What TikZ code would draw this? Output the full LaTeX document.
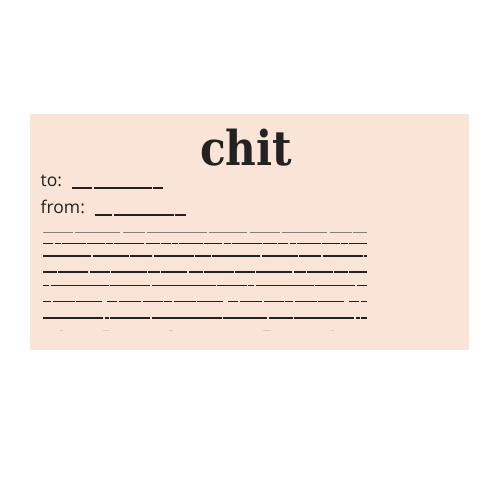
\documentclass[tikz,border=0pt]{standalone}
\usepackage{fontspec}
\newfontfamily\titlefont[FakeStretch=0.88]{DejaVu Serif}
\newfontfamily\labelfont{Open Sans}
\definecolor{peach}{HTML}{FAE4D7}
\definecolor{ink}{HTML}{222222}
\definecolor{inkfaint}{HTML}{8A7F78}
\tikzset{
  ruled/.style={ink, line width=1.7pt},
  faintrule/.style={inkfaint, line width=0.8pt},
  labeltext/.style={inner sep=0pt, anchor=base west, text=ink, font=\labelfont\fontsize{17.5}{20}\selectfont},
}
\begin{document}
\begin{tikzpicture}[x=1pt,y=-1pt]
\useasboundingbox (0,0) rectangle (500,500);
\fill[white] (0,0) rectangle (500,500);
\fill[peach] (30,114) rectangle (469,350);
\node[inner sep=0pt, anchor=base, text=ink, font=\titlefont\bfseries\fontsize{48}{54}\selectfont] (title) at (246,165) {chit};
\node[labeltext] (to) at (40.5,186) {to:};
\node[labeltext] (from) at (40.5,213) {from:};
% underlines
\draw[ruled, line width=1.5pt, dash pattern=on 20pt off 2pt on 58pt off 1pt on 11pt off 20pt] (72,188) -- (163,188);
\draw[ruled, line width=1.5pt, dash pattern=on 17pt off 2pt on 60pt off 1pt on 12pt off 20pt] (95,215) -- (186,215);
% text rules
\draw[faintrule, dash pattern=on 30pt off 2pt on 45pt off 3pt on 22pt off 1.5pt on 60pt off 2pt on 38pt off 3pt] (43,232.5) -- (367,232.5);
\draw[ruled, dash pattern=on 10pt off 1.5pt on 6pt off 1pt on 24pt off 1pt on 18pt off 1.5pt on 7pt off 1pt on 30pt off 1.5pt on 14pt off 1pt] (43,243.5) -- (367,243.5);
\draw[ruled, dash pattern=on 48pt off 2pt on 36pt off 1pt on 22pt off 1.5pt on 40pt off 1pt on 16pt off 1.5pt] (43,256) -- (367,256);
\draw[ruled, dash pattern=on 14pt off 1pt on 30pt off 1.5pt on 20pt off 1pt on 36pt off 1.5pt on 12pt off 1pt on 26pt off 1.5pt] (43,272) -- (367,272);
\draw[ruled, dash pattern=on 6pt off 2pt on 58pt off 1pt on 40pt off 1.5pt on 64pt off 1pt on 30pt off 1.5pt] (43,285.5) -- (367,285.5);
\draw[ruled, dash pattern=on 8pt off 1.5pt on 22pt off 1.5pt on 26pt off 5pt on 10pt off 2pt on 22pt off 1.5pt on 20pt off 1.5pt] (43,301.5) -- (367,301.5);
\draw[ruled, dash pattern=on 60pt off 1.5pt on 4pt off 1.5pt on 40pt off 1.5pt on 70pt off 1.5pt on 44pt off 1.5pt on 24pt off 1.5pt] (43,318) -- (367,318);
\draw[peach!75!inkfaint, line width=0.8pt, dash pattern=on 3pt off 40pt on 6pt off 60pt on 4pt off 90pt on 8pt off 60pt] (60,330) -- (367,330);
\end{tikzpicture}
\end{document}
